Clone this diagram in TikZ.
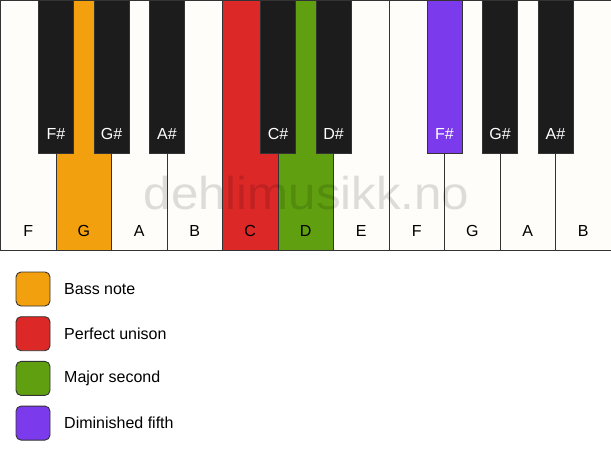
\documentclass[tikz,border=0pt]{standalone}
\usepackage{fontspec}
\setmainfont{Liberation Sans}
\usepackage{tikz}
\usetikzlibrary{positioning}

\definecolor{ivory}{HTML}{FEFDF9}
\definecolor{keyblack}{HTML}{1C1C1C}
\definecolor{edge}{HTML}{333333}
\definecolor{bassorange}{HTML}{F3A00E}
\definecolor{unisonred}{HTML}{DD2828}
\definecolor{secondgreen}{HTML}{60A010}
\definecolor{fifthpurple}{HTML}{7C3AED}

\begin{document}
\begin{tikzpicture}[
        whitekey/.style = {
            draw=edge,
            fill=ivory,
            line width=0.9pt,
            outer sep=0pt,
            minimum width=55.5pt,
            minimum height=250pt
        },
        blackkey/.style = {
            draw=edge,
            fill=keyblack,
            line width=0.9pt,
            outer sep=0pt,
            anchor=north,
            minimum width=35pt,
            minimum height=153pt
        },
        keylabel/.style = {
            anchor=base,
            yshift=14pt,
            inner sep=0pt,
            font=\fontsize{16}{19}\selectfont
        },
        legendbox/.style = {
            draw=edge,
            line width=0.9pt,
            rounded corners=5pt,
            outer sep=0pt,
            minimum size=34pt
        },
        legendtext/.style = {
            inner sep=0pt,
            font=\fontsize{16}{19}\selectfont
        },
        node distance=0pt]

        \useasboundingbox (0,0) rectangle (611pt,-461pt);

        % white keys
        \node[whitekey, anchor=north west, label={[keylabel]south:F}] (f) at (0.5pt,-0.5pt) {};
        \node[whitekey, right=of f, fill=bassorange, label={[keylabel]south:G}] (g) {};
        \node[whitekey, right=of g, label={[keylabel]south:A}] (a) {};
        \node[whitekey, right=of a, label={[keylabel]south:B}] (b) {};
        \node[whitekey, right=of b, fill=unisonred, label={[keylabel]south:C}] (c) {};
        \node[whitekey, right=of c, fill=secondgreen, label={[keylabel]south:D}] (d) {};
        \node[whitekey, right=of d, label={[keylabel]south:E}] (e) {};
        \node[whitekey, right=of e, label={[keylabel]south:F}] (f2) {};
        \node[whitekey, right=of f2, label={[keylabel]south:G}] (g2) {};
        \node[whitekey, right=of g2, label={[keylabel]south:A}] (a2) {};
        \node[whitekey, right=of a2, label={[keylabel]south:B}] (b2) {};

        % black keys
        \node[blackkey, label={[keylabel, white]south:F\#}] (fis) at (f.north east) {};
        \node[blackkey, label={[keylabel, white]south:G\#}] (gis) at (g.north east) {};
        \node[blackkey, label={[keylabel, white]south:A\#}] (ais) at (a.north east) {};
        \node[blackkey, label={[keylabel, white]south:C\#}] (cis) at (c.north east) {};
        \node[blackkey, label={[keylabel, white]south:D\#}] (dis) at (d.north east) {};
        \node[blackkey, fill=fifthpurple, label={[keylabel, white]south:F\#}] (fis2) at (f2.north east) {};
        \node[blackkey, label={[keylabel, white]south:G\#}] (gis2) at (g2.north east) {};
        \node[blackkey, label={[keylabel, white]south:A\#}] (ais2) at (a2.north east) {};

        \node[anchor=base, inner sep=0pt, xscale=1.07, text=black, text opacity=0.13,
            font=\fontsize{46}{50}\selectfont] (mark) at (306.5pt,-209pt) {dehlimusikk.no};

        % legend
        \node[legendbox, fill=bassorange] (bass) at (33pt,-289pt) {};
        \node[legendbox, fill=unisonred, below=10.7pt of bass] (unison) {};
        \node[legendbox, fill=secondgreen, below=10.7pt of unison] (second) {};
        \node[legendbox, fill=fifthpurple, below=10.7pt of second] (fifth) {};

        \node[legendtext, right=14pt of bass] {Bass note};
        \node[legendtext, right=14pt of unison] {Perfect unison};
        \node[legendtext, right=14pt of second] {Major second};
        \node[legendtext, right=14pt of fifth] {Diminished fifth};
    \end{tikzpicture}
\end{document}
